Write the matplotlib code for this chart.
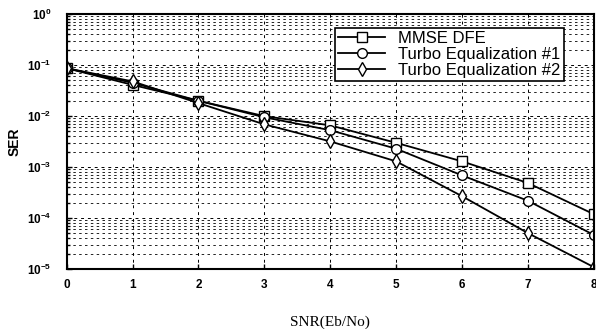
import matplotlib
matplotlib.use("Agg")
import matplotlib.pyplot as plt
from matplotlib.ticker import LogLocator, FixedLocator, NullFormatter

snr = [0, 1, 2, 3, 4, 5, 6, 7, 8]
ser_mmse = [0.087, 0.041, 0.020, 0.0100, 0.0066, 0.0030, 0.0013, 4.9e-4, 1.2e-4]
ser_te1 = [0.087, 0.045, 0.020, 0.0095, 0.0053, 0.0023, 6.9e-4, 2.2e-4, 4.7e-5]
ser_te2 = [0.087, 0.048, 0.018, 0.0069, 0.0032, 0.0013, 2.7e-4, 5.1e-5, 1.1e-5]
labels = ["MMSE DFE", "Turbo Equalization #1", "Turbo Equalization #2"]

plt.rcParams['font.family'] = ['Liberation Sans', 'DejaVu Sans']

fig = plt.figure(figsize=(5.96, 3.29), dpi=100)
ax = fig.add_axes([0.112, 0.182, 0.884, 0.775])

ax.semilogy(snr, ser_mmse, 's-', color='black', mfc='white', mec='black', ms=7, lw=1.3, label=labels[0])
ax.semilogy(snr, ser_te1, 'o-', color='black', mfc='white', mec='black', ms=7, lw=1.3, label=labels[1])
ax.semilogy(snr, ser_te2, 'd-', color='black', mfc='white', mec='black', ms=7, lw=1.3, label=labels[2])

ax.set_xlim(0, 8)
ax.set_ylim(1e-5, 1)
ax.xaxis.set_major_locator(FixedLocator(snr))
ax.yaxis.set_major_locator(LogLocator(base=10, numticks=10))
ax.yaxis.set_minor_locator(LogLocator(base=10, subs=range(2, 10), numticks=20))
ax.yaxis.set_minor_formatter(NullFormatter())

ax.grid(True, which='major', color='black', linestyle=(0, (3, 4)), lw=0.7)
ax.grid(True, which='minor', axis='y', color='black', linestyle=(0, (3, 4)), lw=0.6)
ax.tick_params(which='both', direction='in', labelsize=8.5, width=1)
ax.tick_params(axis='y', pad=11)
ax.tick_params(axis='x', pad=7)
for t in ax.get_xticklabels() + ax.get_yticklabels():
    t.set_fontweight('bold')
for s in ax.spines.values():
    s.set_linewidth(1.5)

ax.set_ylabel("SER", fontsize=10, fontweight='bold')
ax.yaxis.set_label_coords(-0.085, 0.5)
ax.set_xlabel("SNR(Eb/No)", fontsize=11, family=['Liberation Serif', 'DejaVu Serif'])
ax.xaxis.set_label_coords(0.5, -0.18)

leg = ax.legend(loc='upper right', bbox_to_anchor=(0.95, 0.96), fontsize=12, frameon=True,
                fancybox=False, edgecolor='black', framealpha=1, borderpad=0.2,
                handlelength=2.8, labelspacing=0.05, borderaxespad=0.2)
leg.get_frame().set_linewidth(1.2)

fig.savefig("out.png", dpi=100)
